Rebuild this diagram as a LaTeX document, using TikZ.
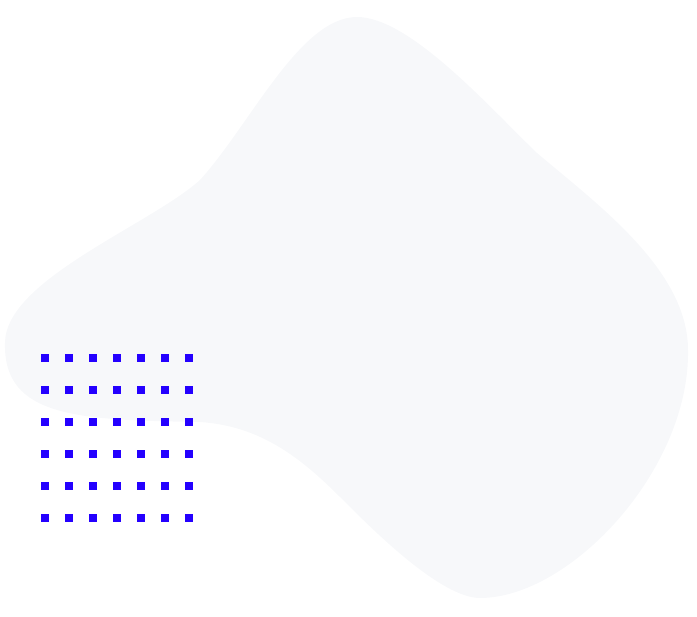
\documentclass[tikz,border=0pt]{standalone}
\definecolor{blobgray}{RGB}{247,248,250}
\definecolor{dotblue}{RGB}{36,0,255}
\begin{document}
\begin{tikzpicture}[x=1pt,y=-1pt,
  dotsq/.style={fill=dotblue,draw=none}]
\useasboundingbox (0,0) rectangle (697,617);
\fill[blobgray] (357,17)
  .. controls (410,17) and (490,108) .. (537,153)
  .. controls (597,204) and (688,270) .. (688,350)
  .. controls (690,470) and (570,598) .. (480,598)
  .. controls (440,598) and (370,527) .. (340,497)
  .. controls (300,457) and (260,426) .. (200,422)
  .. controls (80,420) and (3,418) .. (5,343)
  .. controls (5,280) and (150,225) .. (200,180)
  .. controls (250,125) and (300,17) .. (357,17) -- cycle;
\foreach \i in {0,...,6}{
  \foreach \j in {0,...,5}{
    \fill[dotsq] ({41+24*\i},{354+32*\j}) rectangle ++(8,8);
  }
}
\end{tikzpicture}
\end{document}
